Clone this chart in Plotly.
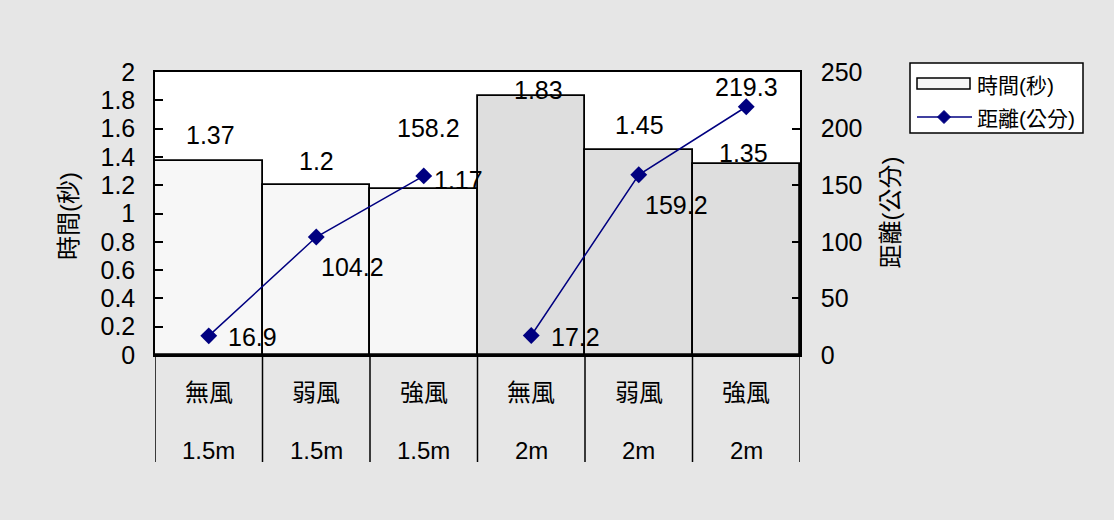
import plotly.graph_objects as go

# Data
wind = ["無風", "弱風", "強風", "無風", "弱風", "強風"]
height = ["1.5m", "1.5m", "1.5m", "2m", "2m", "2m"]
time_s = [1.37, 1.2, 1.17, 1.83, 1.45, 1.35]
dist_cm = [16.9, 104.2, 158.2, 17.2, 159.2, 219.3]
y1_ticks = [0, 0.2, 0.4, 0.6, 0.8, 1, 1.2, 1.4, 1.6, 1.8, 2]
y1_ticktext = ["0", "0.2", "0.4", "0.6", "0.8", "1", "1.2", "1.4", "1.6", "1.8", "2"]
y2_ticks = [0, 50, 100, 150, 200, 250]

# Styling
bar_colors = ["#f7f7f7", "#f7f7f7", "#f7f7f7", "#dedede", "#dedede", "#dedede"]
line_color = "#000080"
FONT = "Liberation Sans, Arial, Noto Sans CJK TC, sans-serif"
bar_label_shift = [(2, 26), (0, 24), (35, 9), (7, 6), (1, 25), (-3, 11)]
line_label_shift = [(44, -1), (36, -30), (5, 48), (44, -1), (38, -30), (0, 20)]

xs = list(range(len(wind)))

fig = go.Figure()
fig.add_trace(go.Bar(
    x=xs, y=time_s, width=1,
    marker=dict(color=bar_colors, line=dict(color="black", width=1.8)),
    name="時間(秒)", showlegend=False, yaxis="y",
))
# One distance line per drop height
for h in dict.fromkeys(height):
    idx = [i for i in xs if height[i] == h]
    fig.add_trace(go.Scatter(
        x=idx, y=[dist_cm[i] for i in idx], mode="lines+markers",
        line=dict(color=line_color, width=1.5),
        marker=dict(symbol="diamond", size=13, color=line_color),
        name="距離(公分)", showlegend=False, yaxis="y2",
    ))

annotations = []
for i, v in enumerate(time_s):
    dx, dy = bar_label_shift[i]
    annotations.append(dict(x=i, y=v, xref="x", yref="y", text=f"{v:g}",
                            showarrow=False, xshift=dx, yshift=dy,
                            xanchor="center", yanchor="middle",
                            font=dict(size=25, color="black", family=FONT)))
for i, v in enumerate(dist_cm):
    dx, dy = line_label_shift[i]
    annotations.append(dict(x=i, y=v, xref="x", yref="y2", text=f"{v:g}",
                            showarrow=False, xshift=dx, yshift=dy,
                            xanchor="center", yanchor="middle",
                            font=dict(size=25, color="black", family=FONT)))

# Two-level category labels
for i in xs:
    annotations.append(dict(x=i, y=-0.134, xref="x", yref="paper", text=wind[i],
                            showarrow=False, xanchor="center", yanchor="middle",
                            font=dict(size=24, color="black", family=FONT)))
    annotations.append(dict(x=i, y=-0.336, xref="x", yref="paper", text=height[i],
                            showarrow=False, xanchor="center", yanchor="middle",
                            font=dict(size=24, color="black", family=FONT)))

# Axis titles
annotations.append(dict(x=-0.134, y=0.49, xref="paper", yref="paper", text="時間(秒)",
                        textangle=-90, showarrow=False, xanchor="center", yanchor="middle",
                        font=dict(size=24, color="black", family=FONT)))
annotations.append(dict(x=1.14, y=0.505, xref="paper", yref="paper", text="距離(公分)",
                        textangle=-90, showarrow=False, xanchor="center", yanchor="middle",
                        font=dict(size=24, color="black", family=FONT)))


def px_x(p):
    return (p - 155) / 645


def px_y(p):
    return (355 - p) / 283


# Legend entries
annotations.append(dict(x=px_x(975), y=px_y(85), xref="paper", yref="paper", text="時間(秒)",
                        xanchor="left", yanchor="middle", showarrow=False,
                        font=dict(size=21, color="black", family=FONT)))
annotations.append(dict(x=px_x(975), y=px_y(118), xref="paper", yref="paper", text="距離(公分)",
                        xanchor="left", yanchor="middle", showarrow=False,
                        font=dict(size=21, color="black", family=FONT)))

shapes = []
# Category separators
for b in [i - 0.5 for i in range(len(wind) + 1)]:
    shapes.append(dict(type="line", xref="x", yref="paper", x0=b, x1=b, y0=0, y1=-0.378,
                       line=dict(color="black", width=1.5)))

# Legend box and symbols
shapes.append(dict(type="rect", xref="paper", yref="paper",
                   x0=px_x(910), x1=px_x(1083), y0=px_y(133), y1=px_y(63),
                   fillcolor="white", line=dict(color="black", width=1.5), layer="below"))
shapes.append(dict(type="rect", xref="paper", yref="paper",
                   x0=px_x(917), x1=px_x(970), y0=px_y(89), y1=px_y(78),
                   fillcolor="#f7f7f7", line=dict(color="black", width=1.5)))
shapes.append(dict(type="line", xref="paper", yref="paper",
                   x0=px_x(917), x1=px_x(972), y0=px_y(117), y1=px_y(117),
                   line=dict(color=line_color, width=1.5)))
cx, cy, r = 944, 117, 6.5
shapes.append(dict(type="path", xref="paper", yref="paper",
                   path=f"M {px_x(cx - r)} {px_y(cy)} L {px_x(cx)} {px_y(cy - r)} "
                        f"L {px_x(cx + r)} {px_y(cy)} L {px_x(cx)} {px_y(cy + r)} Z",
                   fillcolor=line_color, line=dict(color=line_color, width=1)))

fig.update_layout(
    width=1114, height=520,
    margin=dict(l=155, r=314, t=72, b=165),
    paper_bgcolor="#e6e6e6", plot_bgcolor="white",
    font=dict(family=FONT, size=24, color="black"),
    bargap=0,
    xaxis=dict(range=[-0.5, len(wind) - 0.5], showticklabels=False, ticks="",
               showgrid=False, zeroline=False, showline=True, linecolor="black",
               linewidth=2, mirror=True, fixedrange=True),
    yaxis=dict(range=[0, 2], tickvals=y1_ticks, ticktext=y1_ticktext,
               ticks="inside", ticklen=8, tickwidth=1.5, tickcolor="black",
               showline=True, linecolor="black", linewidth=1.5, showgrid=False,
               zeroline=False, ticklabelstandoff=13,
               tickfont=dict(size=25, family=FONT)),
    yaxis2=dict(range=[0, 250], tickvals=y2_ticks, overlaying="y", side="right",
                ticks="inside", ticklen=8, tickwidth=1.5, tickcolor="black",
                showline=True, linecolor="black", linewidth=1.5, showgrid=False,
                zeroline=False, ticklabelstandoff=14,
                tickfont=dict(size=25, family=FONT)),
    annotations=annotations,
    shapes=shapes,
    showlegend=False,
)

fig.write_html("out.html")
